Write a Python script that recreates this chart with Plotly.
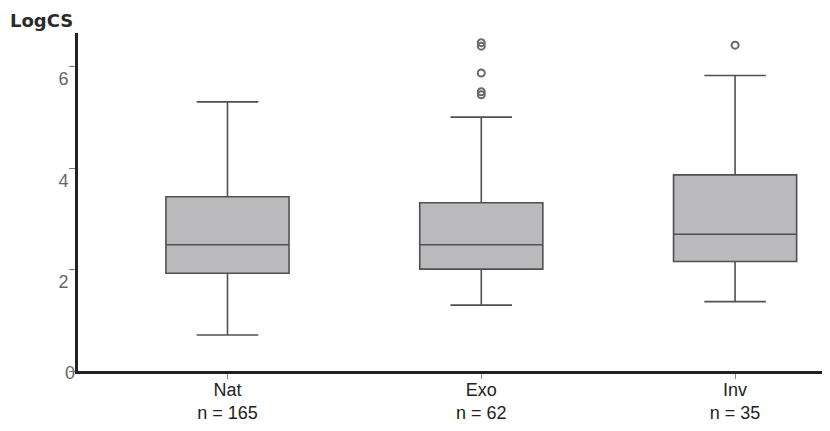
import plotly.graph_objects as go

categories = ["Nat", "Exo", "Inv"]
n_counts = [165, 62, 35]
lower_whisker = [0.71, 1.30, 1.37]
q1_vals = [1.93, 2.01, 2.16]
median_vals = [2.49, 2.49, 2.70]
q3_vals = [3.44, 3.32, 3.87]
upper_whisker = [5.31, 5.01, 5.83]
outlier_cat = ["Exo", "Exo", "Exo", "Exo", "Exo", "Inv"]
outlier_vals = [6.48, 6.41, 5.88, 5.51, 5.45, 6.43]
y_ticks = [0, 2, 4, 6]

fig = go.Figure()
fig.add_trace(go.Box(
    x=categories,
    q1=q1_vals, median=median_vals, q3=q3_vals,
    lowerfence=lower_whisker, upperfence=upper_whisker,
    fillcolor="#bababd",
    line=dict(color="#505050", width=1.6),
    width=0.485,
    whiskerwidth=0.5,
    boxpoints=False,
    showlegend=False,
    hoverinfo="skip",
))
fig.add_trace(go.Scatter(
    x=outlier_cat, y=outlier_vals, mode="markers",
    marker=dict(symbol="circle-open", size=7, color="#6a6a6a", line=dict(width=2)),
    showlegend=False, hoverinfo="skip",
))

# y tick labels: 2,4,6 sit just below their tick marks; 0 sits on the axis line
tick_text = ["" if v == 0 else str(v) for v in y_ticks]

# the page body has an 8px margin, so the figure is 8px smaller and margins shifted
fig.update_layout(
    width=822, height=423,
    margin=dict(l=70, r=0, t=25, b=60),
    paper_bgcolor="white", plot_bgcolor="white",
    font=dict(family="Liberation Sans, Arial, sans-serif", color="#333333"),
    annotations=[
        dict(text="<b>LogCS</b>", xref="paper", yref="paper", x=-0.093, y=1.0,
             xanchor="left", yanchor="middle", showarrow=False, yshift=13,
             font=dict(size=18, color="#2a2a2a", family="DejaVu Sans, sans-serif")),
        dict(text=str(y_ticks[0]), xref="paper", yref="y", x=0, y=y_ticks[0],
             xanchor="right", yanchor="middle", showarrow=False, xshift=-1, yshift=-2,
             font=dict(size=18, color="#666666", family="Liberation Sans, Arial, sans-serif")),
    ],
)
fig.update_xaxes(
    type="category", range=[-0.589, 2.374],
    tickvals=categories,
    ticktext=[f"{c}<br>n = {n}" for c, n in zip(categories, n_counts)],
    showline=True, linewidth=3, linecolor="#222222",
    ticks="outside", ticklen=5, tickwidth=1, tickcolor="#888888",
    tickfont=dict(size=18, color="#222222"),
    ticklabelstandoff=-5,
    showgrid=False, zeroline=False,
)
fig.update_yaxes(
    range=[0, 6.67], tickvals=y_ticks, ticktext=tick_text,
    showline=True, linewidth=3, linecolor="#222222",
    ticks="outside", ticklen=6, tickwidth=1, tickcolor="#777777",
    tickfont=dict(size=18, color="#666666"),
    ticklabelshift=12, ticklabelstandoff=-3,
    showgrid=False, zeroline=False,
)

fig.write_html("out.html")
